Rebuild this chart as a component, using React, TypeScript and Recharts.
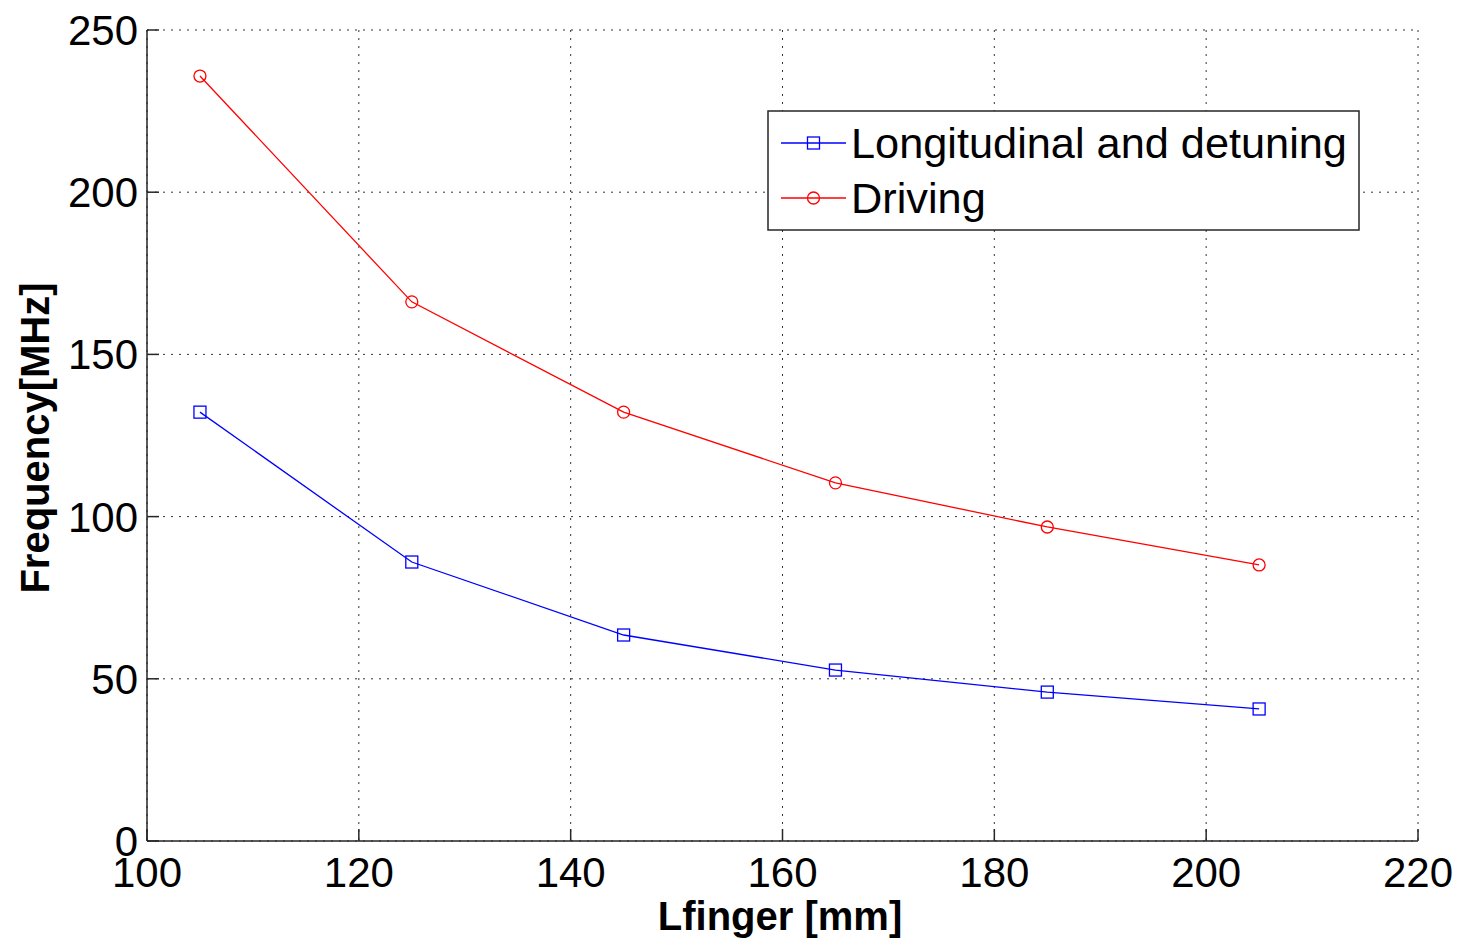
import React from 'react';
import { LineChart, Line, XAxis, YAxis, CartesianGrid } from 'recharts';

const lfinger = [105, 125, 145, 165, 185, 205];
const longitudinal = [132.2, 86.0, 63.5, 52.7, 45.9, 40.7];
const driving = [235.8, 166.2, 132.2, 110.4, 96.8, 85.1];
const xTicks = [100, 120, 140, 160, 180, 200, 220];
const yTicks = [0, 50, 100, 150, 200, 250];
const seriesNames = ['Longitudinal and detuning', 'Driving'];

const data = lfinger.map((x, i) => ({ x, longitudinal: longitudinal[i], driving: driving[i] }));

const FONT = '"Liberation Sans", Arial, sans-serif';
const TICK_LEN = 12;
const AXIS_COLOR = '#262626';

const BottomTick = (props: any) => {
  const { x, y, payload } = props;
  return (
    <g>
      <line x1={x} y1={y} x2={x} y2={y - TICK_LEN} stroke={AXIS_COLOR} strokeWidth={1.5} />
      <text x={x} y={y + 46} textAnchor="middle" fontFamily={FONT} fontSize={42} fill="#000">
        {payload.value}
      </text>
    </g>
  );
};

const TopTick = (props: any) => {
  const { x, y } = props;
  return <line x1={x} y1={y} x2={x} y2={y + TICK_LEN} stroke={AXIS_COLOR} strokeWidth={1.5} />;
};

const LeftTick = (props: any) => {
  const { x, y, payload } = props;
  return (
    <g>
      <line x1={x} y1={y} x2={x + TICK_LEN} y2={y} stroke={AXIS_COLOR} strokeWidth={1.5} />
      <text x={x - 9} y={y + 15} textAnchor="end" fontFamily={FONT} fontSize={42} fill="#000">
        {payload.value}
      </text>
    </g>
  );
};

const RightTick = (props: any) => {
  const { x, y } = props;
  return <line x1={x} y1={y} x2={x - TICK_LEN} y2={y} stroke={AXIS_COLOR} strokeWidth={1.5} />;
};

const SquareDot = (props: any) => {
  const { cx, cy, index } = props;
  if (cx == null || cy == null) return <g key={index} />;
  return <rect key={index} x={cx - 6} y={cy - 6} width={12} height={12} fill="none" stroke="#0000ff" strokeWidth={1.3} />;
};

const CircleDot = (props: any) => {
  const { cx, cy, index } = props;
  if (cx == null || cy == null) return <g key={index} />;
  return <circle key={index} cx={cx} cy={cy} r={6} fill="none" stroke="#ff0000" strokeWidth={1.3} />;
};

export default function App() {
  return (
    <div style={{ position: 'absolute', left: 0, top: 0, width: 1459, height: 938, background: '#fff' }}>
      <LineChart
        width={1459}
        height={938}
        data={data}
        margin={{ top: 30, right: 41, bottom: 37, left: 67 }}
      >
        <CartesianGrid stroke="#333" strokeDasharray="2 6" strokeWidth={1} />
        <XAxis
          dataKey="x"
          type="number"
          domain={[100, 220]}
          ticks={xTicks}
          height={60}
          tickSize={0}
          tickMargin={0}
          tickLine={false}
          axisLine={{ stroke: AXIS_COLOR, strokeWidth: 1.5 }}
          tick={<BottomTick />}
          interval={0}
          allowDataOverflow
        />
        <XAxis
          xAxisId="top"
          dataKey="x"
          type="number"
          orientation="top"
          domain={[100, 220]}
          ticks={xTicks}
          height={0}
          tickSize={0}
          tickMargin={0}
          tickLine={false}
          axisLine={{ stroke: AXIS_COLOR, strokeWidth: 1.5 }}
          tick={<TopTick />}
          interval={0}
        />
        <YAxis
          type="number"
          domain={[0, 250]}
          ticks={yTicks}
          width={80}
          tickSize={0}
          tickMargin={0}
          tickLine={false}
          axisLine={{ stroke: AXIS_COLOR, strokeWidth: 1.5 }}
          tick={<LeftTick />}
          interval={0}
          allowDataOverflow
        />
        <YAxis
          yAxisId="right"
          type="number"
          orientation="right"
          domain={[0, 250]}
          ticks={yTicks}
          width={0}
          tickSize={0}
          tickMargin={0}
          tickLine={false}
          axisLine={{ stroke: AXIS_COLOR, strokeWidth: 1.5 }}
          tick={<RightTick />}
          interval={0}
        />
        <Line
          dataKey="driving"
          name={seriesNames[1]}
          stroke="#ff0000"
          strokeWidth={1.3}
          dot={<CircleDot />}
          activeDot={false}
          isAnimationActive={false}
          type="linear"
        />
        <Line
          dataKey="longitudinal"
          name={seriesNames[0]}
          stroke="#0000ff"
          strokeWidth={1.3}
          dot={<SquareDot />}
          activeDot={false}
          isAnimationActive={false}
          type="linear"
        />
      </LineChart>

      <div
        style={{
          position: 'absolute',
          left: 0,
          top: 0,
          width: 1459,
          height: 938,
          pointerEvents: 'none',
        }}
      >
        <svg width={1459} height={938}>
          <text
            x={780}
            y={930}
            textAnchor="middle"
            fontFamily={FONT}
            fontWeight="bold"
            fontSize={40}
            fill="#000"
          >
            Lfinger [mm]
          </text>
          <text
            x={49}
            y={438}
            textAnchor="middle"
            fontFamily={FONT}
            fontWeight="bold"
            fontSize={40}
            fill="#000"
            transform="rotate(-90 49 438)"
          >
            Frequency[MHz]
          </text>
          <g transform="translate(768,111)">
            <rect x={0} y={0} width={591} height={119} fill="#fff" stroke={AXIS_COLOR} strokeWidth={1.5} />
            <line x1={13} y1={32} x2={78} y2={32} stroke="#0000ff" strokeWidth={1.3} />
            <rect x={39.5} y={26} width={12} height={12} fill="none" stroke="#0000ff" strokeWidth={1.3} />
            <text x={83} y={47} fontFamily={FONT} fontSize={43.3} fill="#000">
              {seriesNames[0]}
            </text>
            <line x1={13} y1={87} x2={78} y2={87} stroke="#ff0000" strokeWidth={1.3} />
            <circle cx={45.5} cy={87} r={6} fill="none" stroke="#ff0000" strokeWidth={1.3} />
            <text x={83} y={102} fontFamily={FONT} fontSize={43.3} fill="#000">
              {seriesNames[1]}
            </text>
          </g>
        </svg>
      </div>
    </div>
  );
}
